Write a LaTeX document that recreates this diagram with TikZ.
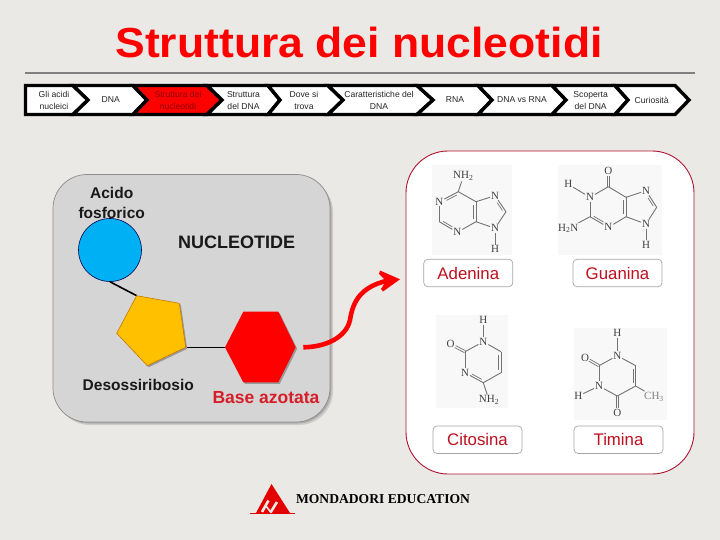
\documentclass[tikz,border=0pt]{standalone}
\usepackage{fontspec}
\usepackage{graphicx}
\usetikzlibrary{calc}
\setmainfont{Liberation Sans}
\newfontfamily\serifatoms{Liberation Serif}
\definecolor{bgcol}{HTML}{EAE9E6}
\definecolor{panelcol}{HTML}{D5D5D5}
\definecolor{labred}{HTML}{BE0F1E}
\definecolor{molbg}{HTML}{F8F8F8}
\tikzset{
  chev/.style={draw=black,line width=3.4pt,fill=white,line join=miter},
  chevtext/.style={font=\fontsize{8.6}{12}\selectfont,align=center,inner sep=0pt,text=black!85},
  base/.style={draw=black!35,fill=white,rounded corners=4pt,line width=.7pt,minimum width=89pt,minimum height=27.5pt,inner sep=0pt,text=labred,font=\fontsize{16.8}{18}\selectfont},
  atom/.style={font=\serifatoms\fontsize{11}{11}\selectfont,text=black!75,inner sep=.8pt},
  bond/.style={draw=black!55,line width=.9pt},
  molpanel/.style={fill=molbg,draw=none},
  nlabel/.style={font=\bfseries\fontsize{15.5}{17}\selectfont,inner sep=0pt,text=black!90}
}
\newcommand{\chevpoly}[5]{\draw[chev,#5] (#1,85.5) -- (#3,85.5) -- (#4,100) -- (#3,114.5) -- (#1,114.5) -- (#2,100) -- cycle;}
% ring double bond: main bond plus an inner line on the left (angle 90) or right (-90) of a->b
\newcommand{\dbl}[5]{\draw[bond] (#1) -- (#2);
  \draw[bond,line width=.7pt,shorten <=#4,shorten >=#5] ($(#1.center)!2.2pt!#3:(#2.center)$) -- ($(#2.center)!2.2pt!-#3:(#1.center)$);}
% C=O style: two lines side by side
\newcommand{\dco}[2]{\draw[bond,line width=.7pt,shorten >=5pt] ($(#1.center)!1.1pt!90:(#2.center)$) -- ($(#2.center)!1.1pt!-90:(#1.center)$);
  \draw[bond,line width=.7pt,shorten >=5pt] ($(#1.center)!1.1pt!-90:(#2.center)$) -- ($(#2.center)!1.1pt!90:(#1.center)$);}
\begin{document}
\begin{tikzpicture}[x=1pt,y=-1pt]
\useasboundingbox (0,0) rectangle (720,540);
\fill[bgcol] (0,0) rectangle (720,540);
% title
\node[inner sep=0pt,anchor=base,text=red,font=\bfseries\fontsize{42}{46}\selectfont] (title) at (359,58) {\scalebox{1.06}[1]{Struttura dei nucleotidi}};
\coordinate (ruleL) at (25,73);
\coordinate (ruleR) at (695,73);
\draw[black!50,line width=1.8pt] (ruleL) -- (ruleR);
% chevrons
\chevpoly{25.5}{25.5}{73}{88}{}
\chevpoly{73}{88}{133}{147}{}
\chevpoly{133}{147}{207}{222}{fill=red}
\chevpoly{207}{222}{268}{280}{}
\chevpoly{268}{280}{328}{343}{}
\chevpoly{328}{343}{417}{433}{}
\chevpoly{417}{433}{478}{492}{}
\chevpoly{478}{492}{552}{566}{}
\chevpoly{552}{566}{615}{628}{}
\chevpoly{615}{628}{675}{689}{}
\node[chevtext] (c1) at (54,100.5) {Gli acidi\\nucleici};
\node[chevtext] (c2) at (110.7,100) {DNA};
\node[chevtext,text=red!55!black] (c3) at (178,100.5) {Struttura dei\\nucleotidi};
\node[chevtext] (c4) at (243.5,100.5) {Struttura\\del DNA};
\node[chevtext] (c5) at (304,100.5) {Dove si\\trova};
\node[chevtext] (c6) at (379,100.5) {Caratteristiche del\\DNA};
\node[chevtext] (c7) at (455,100) {RNA};
\node[chevtext] (c8) at (522,100) {DNA vs RNA};
\node[chevtext] (c9) at (590.7,100.5) {Scoperta\\del DNA};
\node[chevtext] (c10) at (651.7,100) {Curiosità};
% nucleotide panel
\fill[black!45,opacity=.3,rounded corners=34pt] (56,178) rectangle (333,425);
\fill[black!45,opacity=.5,rounded corners=34pt] (55,176.5) rectangle (331.5,423.5);
\draw[draw=black!45,fill=panelcol,line width=.7pt,rounded corners=34pt] (53,174.5) rectangle (330,422);
\coordinate (p1) at (136.7,295.7);
\coordinate (p2) at (179.3,303.3);
\coordinate (p3) at (185.7,347.3);
\coordinate (p4) at (147.3,365.7);
\coordinate (p5) at (116.7,333.3);
\coordinate (h1) at (225,347.3);
\coordinate (h2) at (243.3,311.7);
\coordinate (h3) at (278.3,311.7);
\coordinate (h4) at (295.7,347.3);
\coordinate (h5) at (278.3,382.3);
\coordinate (h6) at (243.3,382.3);
\node[circle,draw=black!70!blue,line width=.6pt,minimum size=63pt,inner sep=0pt,fill={rgb,255:red,0;green,176;blue,245}] (phos) at (110,250) {};
\draw[black,line width=1.6pt] (phos.south) -- (p1);
\draw[black,line width=1.6pt] (p3) -- (h1);
\fill[black!40] ([shift={(1.5,1.5)}]p1) -- ([shift={(1.5,1.5)}]p2) -- ([shift={(1.5,1.5)}]p3) -- ([shift={(1.5,1.5)}]p4) -- ([shift={(1.5,1.5)}]p5) -- cycle;
\draw[draw={rgb,255:red,200;green,120;blue,0},fill={rgb,255:red,255;green,192;blue,0},line width=.6pt] (p1) -- (p2) -- (p3) -- (p4) -- (p5) -- cycle;
\fill[black!40] ([shift={(1.5,1.5)}]h1) -- ([shift={(1.5,1.5)}]h2) -- ([shift={(1.5,1.5)}]h3) -- ([shift={(1.5,1.5)}]h4) -- ([shift={(1.5,1.5)}]h5) -- ([shift={(1.5,1.5)}]h6) -- cycle;
\fill[red] (h1) -- (h2) -- (h3) -- (h4) -- (h5) -- (h6) -- cycle;
\node[nlabel,align=center,font=\bfseries\fontsize{15.5}{19.4}\selectfont] (acido) at (111.7,203) {Acido\\fosforico};
\node[nlabel,font=\bfseries\fontsize{18}{20}\selectfont] (nucl) at (236.7,242.3) {NUCLEOTIDE};
\node[nlabel] (deso) at (138.3,385) {Desossiribosio};
\node[nlabel,text={rgb,255:red,214;green,30;blue,40},font=\bfseries\fontsize{17.5}{19}\selectfont] (basea) at (266,397.7) {Base azotata};
% right panel
\draw[draw={rgb,255:red,176;green,20;blue,48},fill=white,line width=.9pt,rounded corners=42pt] (406,151) rectangle (694,474);
% molecule backgrounds
\fill[molpanel] (432,165) rectangle (512,255);
\fill[molpanel] (558,165) rectangle (662,255);
\fill[molpanel] (436,315) rectangle (508,408);
\fill[molpanel] (574,328) rectangle (667,420);
% adenine
\node[atom] (aNH) at (463.3,176) {NH\textsubscript{2}};
\coordinate (aC6) at (458.3,191.7);
\node[atom] (aN1) at (439.3,201.7) {N};
\coordinate (aC2) at (439.3,221.7);
\node[atom] (aN3) at (457.3,232.3) {N};
\coordinate (aC4) at (476,221.7);
\coordinate (aC5) at (476,201.7);
\node[atom] (aN7) at (495,195.7) {N};
\coordinate (aC8) at (506,211.7);
\node[atom] (aN9) at (495,228.3) {N};
\node[atom] (aH) at (495,249.3) {H};
\draw[bond] (aNH) -- (aC6);
\dbl{aC6}{aN1}{90}{3pt}{7pt}
\draw[bond] (aN1) -- (aC2);
\dbl{aC2}{aN3}{90}{3pt}{7pt}
\draw[bond] (aN3) -- (aC4);
\dbl{aC4}{aC5}{90}{3pt}{3pt}
\draw[bond] (aC5) -- (aC6);
\draw[bond] (aC5) -- (aN7);
\dbl{aN7}{aC8}{-90}{7pt}{3pt}
\draw[bond] (aC8) -- (aN9);
\draw[bond] (aN9) -- (aC4);
\draw[bond] (aN9) -- (aH);
% guanine
\node[atom] (gO) at (608.3,170.7) {O};
\coordinate (gC6) at (608.3,186.7);
\node[atom] (gN1) at (590,197.3) {N};
\node[atom] (gH1) at (568.3,184.3) {H};
\coordinate (gC2) at (590,216.7);
\node[atom] (gNH) at (568.3,228.3) {H\textsubscript{2}N};
\node[atom] (gN3) at (608.3,227.3) {N};
\coordinate (gC4) at (626,216.7);
\coordinate (gC5) at (626,197.3);
\node[atom] (gN7) at (646,190.7) {N};
\coordinate (gC8) at (656.7,207.3);
\node[atom] (gN9) at (646,224) {N};
\node[atom] (gH9) at (646,245) {H};
\dco{gC6}{gO}
\draw[bond] (gC6) -- (gN1);
\draw[bond] (gN1) -- (gH1);
\draw[bond] (gN1) -- (gC2);
\draw[bond] (gC2) -- (gNH);
\dbl{gC2}{gN3}{90}{3pt}{7pt}
\draw[bond] (gN3) -- (gC4);
\dbl{gC4}{gC5}{90}{3pt}{3pt}
\draw[bond] (gC5) -- (gC6);
\draw[bond] (gC5) -- (gN7);
\dbl{gN7}{gC8}{-90}{7pt}{3pt}
\draw[bond] (gC8) -- (gN9);
\draw[bond] (gN9) -- (gC4);
\draw[bond] (gN9) -- (gH9);
% cytosine
\node[atom] (cH) at (483.3,320) {H};
\node[atom] (cN1) at (483.3,341.7) {N};
\coordinate (cC2) at (465,351.7);
\node[atom] (cO) at (450.7,344.3) {O};
\node[atom] (cN3) at (465,372.7) {N};
\coordinate (cC4) at (483.3,382.7);
\coordinate (cC5) at (501,372.7);
\coordinate (cC6) at (501,351.7);
\node[atom] (cNH) at (489,400) {NH\textsubscript{2}};
\draw[bond] (cH) -- (cN1);
\draw[bond] (cN1) -- (cC2);
\dco{cC2}{cO}
\draw[bond] (cC2) -- (cN3);
\dbl{cN3}{cC4}{90}{7pt}{3pt}
\draw[bond] (cC4) -- (cC5);
\dbl{cC5}{cC6}{90}{3pt}{3pt}
\draw[bond] (cC6) -- (cN1);
\draw[bond] (cC4) -- (cNH);
% thymine
\node[atom] (tH1) at (617.3,333.3) {H};
\node[atom] (tN1) at (617.3,355.7) {N};
\coordinate (tC2) at (599,365.7);
\node[atom] (tO2) at (585,357.7) {O};
\node[atom] (tN3) at (599,386) {N};
\node[atom] (tH3) at (578.3,396) {H};
\coordinate (tC4) at (617.3,396);
\node[atom] (tO4) at (617.3,413.3) {O};
\coordinate (tC5) at (635.7,386);
\coordinate (tC6) at (635.7,365.7);
\node[atom,text=black!50] (tCH) at (654,396.7) {CH\textsubscript{3}};
\draw[bond] (tH1) -- (tN1);
\draw[bond] (tN1) -- (tC2);
\dco{tC2}{tO2}
\draw[bond] (tC2) -- (tN3);
\draw[bond] (tN3) -- (tH3);
\draw[bond] (tN3) -- (tC4);
\dco{tC4}{tO4}
\draw[bond] (tC4) -- (tC5);
\dbl{tC5}{tC6}{90}{3pt}{3pt}
\draw[bond] (tC6) -- (tN1);
\draw[bond] (tC5) -- (tCH);
% labels
\node[base] (adenina) at (468.3,273) {Adenina};
\node[base] (guanina) at (617.5,273) {Guanina};
\node[base] (citosina) at (477.5,439.7) {Citosina};
\node[base] (timina) at (618.5,439.7) {Timina};
% red arrow
\coordinate (arS) at (303.3,347.3);
\coordinate (arE) at (400,279.3);
\draw[red,line width=4.6pt] (arS) .. controls (325,347) and (346,338) .. (350,320) .. controls (353,300) and (362,287) .. (386,281);
\fill[red] (arE) -- (380,270.5) -- (379,274) -- (386,281) -- (381,289) -- (383,291.5) -- cycle;
% logo
\fill[red!90!black] (271.5,484) -- (290,513) -- (256,513) -- cycle;
\draw[red!90!black,line width=1pt] (250,513.2) -- (295,513.2);
\draw[bgcol,line width=2.6pt] (262,512) -- (268.5,500.5);
\draw[bgcol,line width=2.6pt] (270.5,512.5) -- (277,502);
\draw[bgcol,line width=1.6pt] (266,506) -- (271,512.5);
\node[inner sep=0pt,font=\serifatoms\bfseries\fontsize{13.6}{14}\selectfont] (mond) at (383,499) {MONDADORI EDUCATION};
\end{tikzpicture}
\end{document}
